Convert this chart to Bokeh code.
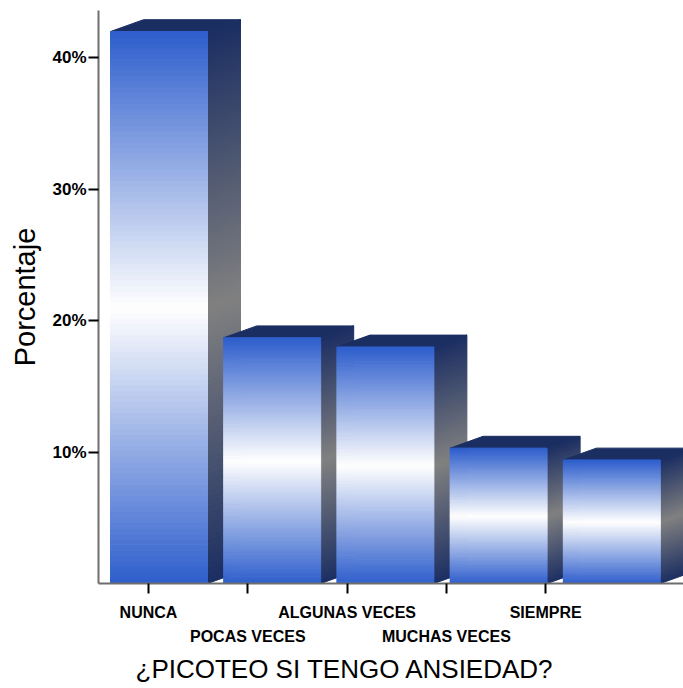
from bokeh.plotting import figure
from bokeh.models import Range1d, FixedTicker, PrintfTickFormatter, LinearAxis, ColumnDataSource, Title
from bokeh.embed import file_html
from bokeh.resources import INLINE

# ---- data ----
categories = ["NUNCA", "POCAS VECES", "ALGUNAS VECES", "MUCHAS VECES", "SIEMPRE"]
percent = [42.0, 18.7, 18.0, 10.3, 9.4]
y_ticks = [10, 20, 30, 40]
x_title = "¿PICOTEO SI TENGO ANSIEDAD?"
y_title = "Porcentaje"

# ---- layout (x in category-tick units) ----
PX = 1 / 99.3            # one screen pixel in x units
BAR_STEP = 113.2 * PX
BAR_OFF = -38 * PX
BAR_W = 97 * PX
DX = 33 * PX             # 3D depth, x
DY = 0.9                 # 3D depth, y (percent units)
N = 100                  # gradient strips

BLUE = (46, 94, 204)
WHITE = (255, 255, 255)
NAVY = (27, 46, 98)
GREY = (128, 128, 128)


def mix(c1, c2, t):
    return "#%02x%02x%02x" % tuple(int(round(a + (b - a) * t)) for a, b in zip(c1, c2))


front = dict(left=[], right=[], bottom=[], top=[], color=[])
side = dict(xs=[], ys=[], color=[])
tops = dict(xs=[], ys=[])
for i, v in enumerate(percent):
    x0 = BAR_OFF + i * BAR_STEP
    x1 = x0 + BAR_W
    for k in range(N):
        b = v * k / N
        t = v * (k + 1) / N
        d = abs((k + 0.5) / N - 0.5) * 2
        front["left"].append(x0)
        front["right"].append(x1)
        front["bottom"].append(b)
        front["top"].append(t)
        front["color"].append(mix(WHITE, BLUE, d))
        side["xs"].append([x1, x1 + DX, x1 + DX, x1])
        side["ys"].append([b, b + DY, t + DY, t])
        side["color"].append(mix(GREY, NAVY, d))
    tops["xs"].append([x0, x1, x1 + DX, x0 + DX])
    tops["ys"].append([v, v, v + DY, v + DY])

W, H = 683, 688
p = figure(width=W, height=H, output_backend="svg", toolbar_location=None,
           x_range=Range1d(-50 * PX, 535 * PX), y_range=Range1d(0, 43.6),
           min_border_left=98, min_border_right=0, min_border_top=10, min_border_bottom=105,
           outline_line_color=None, background_fill_color="white")
p.xgrid.visible = False
p.ygrid.visible = False

navy_hex = mix(NAVY, NAVY, 0)
p.patches("xs", "ys", source=ColumnDataSource(side), fill_color="color", line_color="color", line_width=1)
p.patches("xs", "ys", source=ColumnDataSource(tops), fill_color=navy_hex, line_color=navy_hex)
p.quad(left="left", right="right", bottom="bottom", top="top", source=ColumnDataSource(front),
       fill_color="color", line_color="color", line_width=1)

# y axis
ya = p.yaxis[0]
ya.ticker = FixedTicker(ticks=y_ticks)
ya.formatter = PrintfTickFormatter(format="%d%%")
ya.axis_line_color = "#6e6e6e"
ya.axis_line_width = 2
ya.major_tick_line_color = "black"
ya.major_tick_line_width = 2
ya.major_tick_out = 10
ya.major_tick_in = 0
ya.minor_tick_line_color = None
ya.major_label_text_font = "Liberation Sans"
ya.major_label_text_font_style = "bold"
ya.major_label_text_font_size = "17px"
ya.major_label_text_color = "black"
ya.major_label_standoff = 2
ya.axis_label = y_title
ya.axis_label_text_font = "Liberation Sans"
ya.axis_label_text_font_style = "normal"
ya.axis_label_text_font_size = "29px"
ya.axis_label_text_color = "black"
ya.axis_label_standoff = 8

# x axis, row 1
xa = p.xaxis[0]
xa.ticker = FixedTicker(ticks=list(range(len(categories))))
xa.major_label_overrides = {i: (c if i % 2 == 0 else "") for i, c in enumerate(categories)}
xa.axis_line_color = "#6e6e6e"
xa.axis_line_width = 2
xa.major_tick_line_color = "black"
xa.major_tick_line_width = 2
xa.major_tick_out = 10
xa.major_tick_in = 0
xa.minor_tick_line_color = None
xa.major_label_standoff = 10
xa.major_label_text_font = "Liberation Sans"
xa.major_label_text_font_style = "bold"
xa.major_label_text_font_size = "16px"
xa.major_label_text_color = "black"

# x axis, row 2 (staggered labels)
xb = LinearAxis(ticker=FixedTicker(ticks=[i for i in range(len(categories)) if i % 2 == 1]),
                major_label_overrides={i: c for i, c in enumerate(categories) if i % 2 == 1},
                axis_line_color=None, major_tick_line_color=None, minor_tick_line_color=None,
                major_tick_out=0, major_tick_in=0, major_label_standoff=4,
                major_label_text_font="Liberation Sans", major_label_text_font_style="bold",
                major_label_text_font_size="16px", major_label_text_color="black")
p.add_layout(xb, "below")

p.add_layout(Title(text=x_title, align="left", offset=37, standoff=8,
                   text_font="Liberation Sans", text_font_size="26px", text_font_style="normal",
                   text_color="black"), "below")

open("out.html", "w").write(file_html(p, INLINE))
